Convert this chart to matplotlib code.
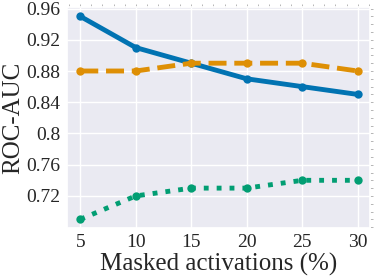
import numpy as np
import matplotlib
matplotlib.use("Agg")
import matplotlib.pyplot as plt
import seaborn as sns
from matplotlib.ticker import MultipleLocator

sns.set_theme(style="darkgrid")
plt.rcParams['font.family'] = ['Liberation Serif', 'DejaVu Serif']

masked = [5, 10, 15, 20, 25, 30]
blue_auc = [0.95, 0.91, 0.89, 0.87, 0.86, 0.85]
orange_auc = [0.88, 0.88, 0.89, 0.89, 0.89, 0.88]
green_auc = [0.69, 0.72, 0.73, 0.73, 0.74, 0.74]
yticks = [0.72, 0.76, 0.8, 0.84, 0.88, 0.92, 0.96]
ytick_labels = ["0.72", "0.76", "0.8", "0.84", "0.88", "0.92", "0.96"]

cols = sns.color_palette("colorblind")

fig = plt.figure(figsize=(3.74, 2.79), dpi=100)
ax = fig.add_axes([0.179, 0.183, 0.81, 0.792])

for vals, ls, c in [(blue_auc, '-', cols[0]), (orange_auc, '--', cols[1]),
                    (green_auc, ':', cols[2])]:
    ax.plot(masked, vals, ls, color=c, lw=3.5, marker='o', ms=6,
            mec=c, mew=0)

ax.set_xlim(3.8, 31.1)
ax.set_ylim(0.679, 0.962)
ax.set_xticks(masked)
ax.set_yticks(yticks)
ax.set_yticklabels(ytick_labels)
ax.tick_params(axis='both', labelsize=14, pad=2, length=0)

# small grey ticks on top and right edges
ax.xaxis.set_minor_locator(MultipleLocator(1))
ax.yaxis.set_minor_locator(MultipleLocator(0.01))
ax.tick_params(which='both', top=True, right=True, bottom=False, left=False,
               direction='out', color='#aaaaaa', width=0.6)
ax.tick_params(which='major', length=2.5)
ax.tick_params(which='minor', length=2)
ax.grid(which='minor', visible=False)

ax.set_xlabel("Masked activations (%)", fontsize=18, labelpad=1)
ax.set_ylabel("ROC-AUC", fontsize=18, labelpad=2)

fig.savefig("out.png", dpi=100)
